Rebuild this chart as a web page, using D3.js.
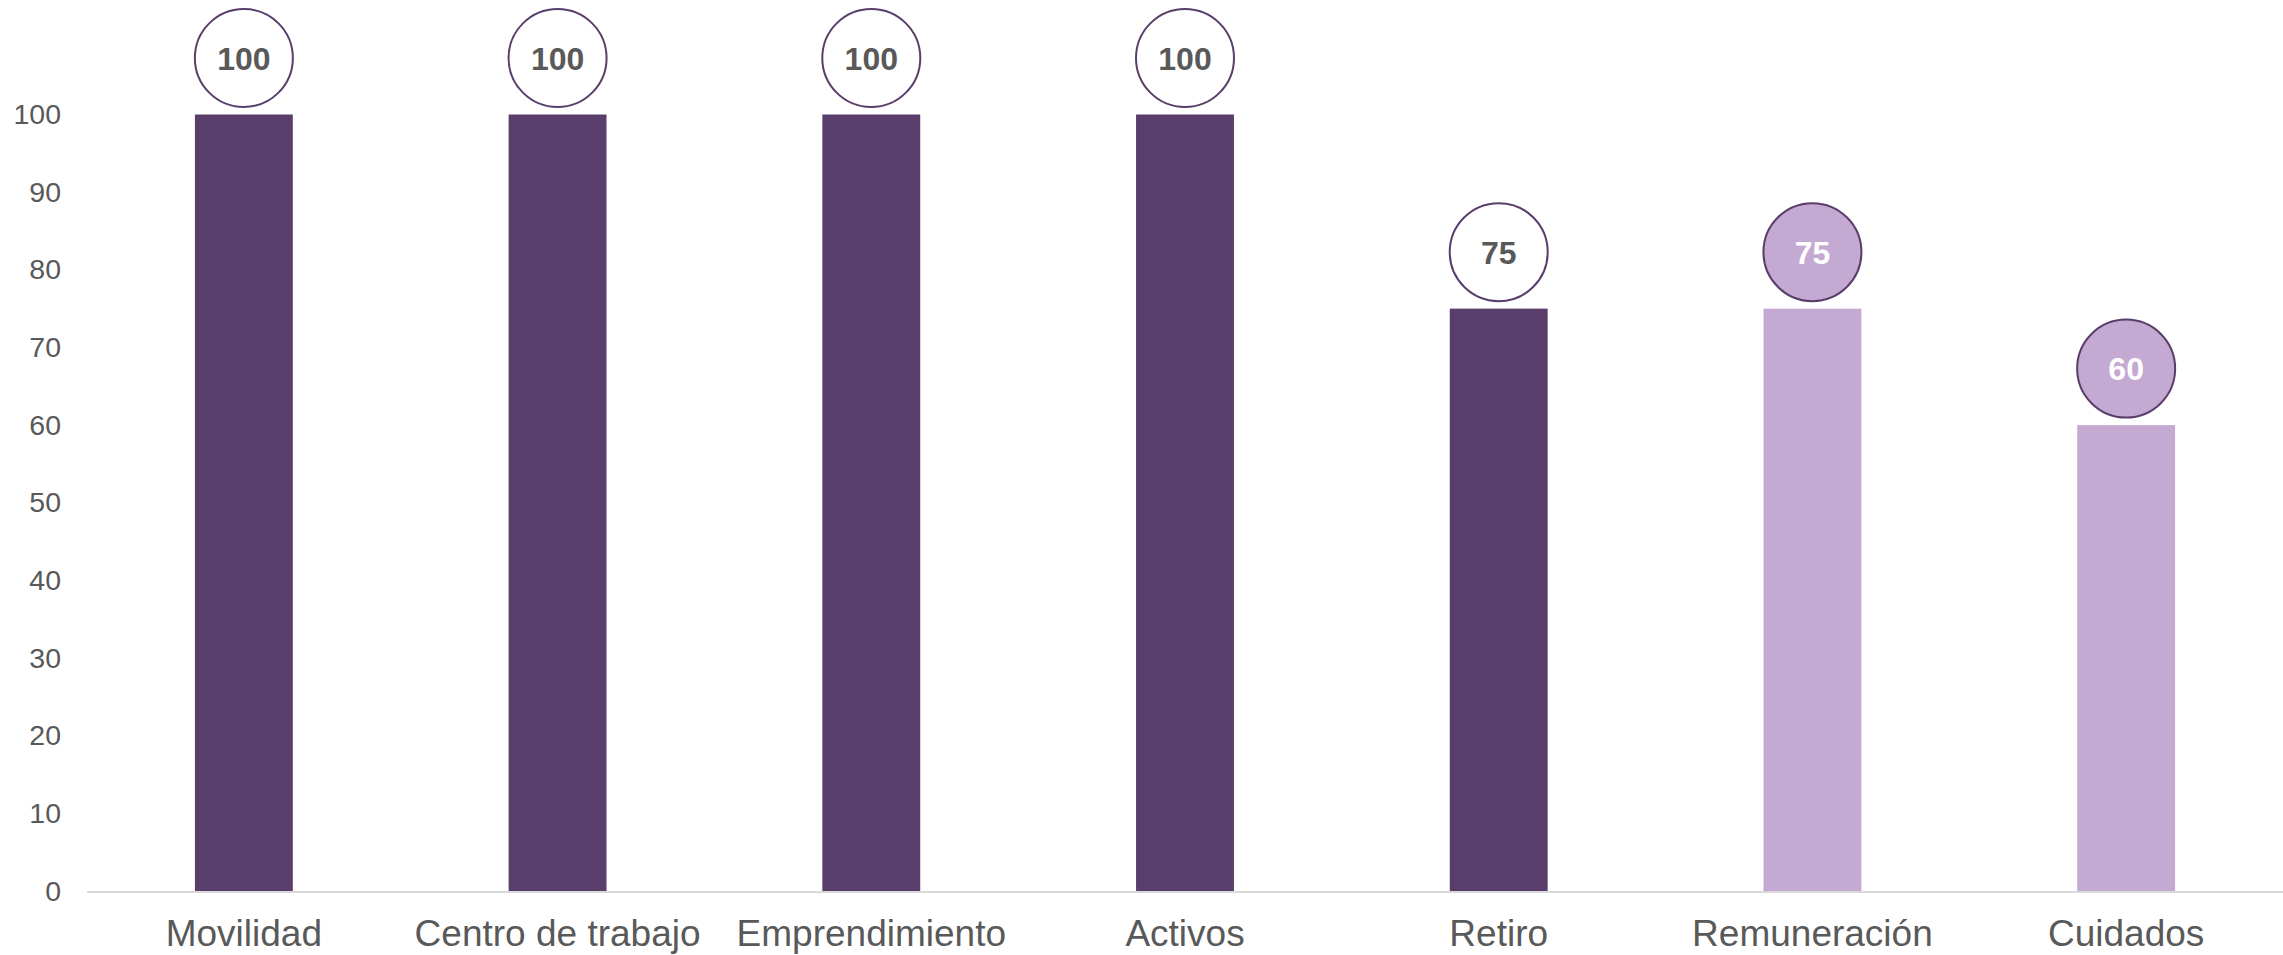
<!DOCTYPE html>
<html lang="es">
<head>
<meta charset="utf-8">
<script src="https://cdn.jsdelivr.net/npm/d3@7"></script>
<style>
  html, body { margin: 0; padding: 0; background: #ffffff; }
  svg { display: block; }
  text { font-family: "Liberation Sans", Arial, sans-serif; }
</style>
</head>
<body>
<svg id="chart" width="2283" height="955"></svg>
<script>
// Categorías y puntajes
const categorias = ["Movilidad", "Centro de trabajo", "Emprendimiento", "Activos", "Retiro", "Remuneración", "Cuidados"];
const valores = [100, 100, 100, 100, 75, 75, 60];
const grupos = ["A", "A", "A", "A", "A", "B", "B"];
const ticksY = [0, 10, 20, 30, 40, 50, 60, 70, 80, 90, 100];

const svg = d3.select("#chart");
const W = 2283, H = 955;
const margin = { left: 87, right: 0, top: 114.5, bottom: 64 };
const y0 = H - margin.bottom;

const x = d3.scaleBand()
  .domain(categorias)
  .range([margin.left, W - margin.right])
  .paddingInner(0.688)
  .paddingOuter(0.344);

const y = d3.scaleLinear()
  .domain([0, 100])
  .range([y0, margin.top]);

const colorBarra = d3.scaleOrdinal().domain(["A", "B"]).range(["#593d6b", "#c4aad3"]);
const colorCirculo = d3.scaleOrdinal().domain(["A", "B"]).range(["#ffffff", "#c4aad3"]);
const colorTexto = d3.scaleOrdinal().domain(["A", "B"]).range(["#595959", "#ffffff"]);

const datos = categorias.map((c, i) => ({ cat: c, val: valores[i], grp: grupos[i] }));

// Eje Y (sólo etiquetas)
const ejeY = svg.append("g")
  .attr("transform", `translate(${margin.left},0)`)
  .call(d3.axisLeft(y).tickValues(ticksY).tickSize(0).tickPadding(26));
ejeY.select(".domain").remove();
ejeY.selectAll("text")
  .attr("fill", "#595959")
  .style("font-size", "28.5px")
  .style("font-family", "'Liberation Sans', Arial, sans-serif");

// Barras
svg.append("g").selectAll("rect")
  .data(datos)
  .join("rect")
  .attr("x", d => x(d.cat))
  .attr("y", d => y(d.val))
  .attr("width", x.bandwidth())
  .attr("height", d => y(0) - y(d.val))
  .attr("fill", d => colorBarra(d.grp));

// Línea base
svg.append("line")
  .attr("x1", margin.left).attr("x2", W - margin.right)
  .attr("y1", y(0) + 1).attr("y2", y(0) + 1)
  .attr("stroke", "#d9d9d9").attr("stroke-width", 2);

// Eje X (etiquetas)
const ejeX = svg.append("g")
  .attr("transform", `translate(0,${y0})`)
  .call(d3.axisBottom(x).tickSize(0).tickPadding(29));
ejeX.select(".domain").remove();
ejeX.selectAll("text")
  .attr("fill", "#595959")
  .style("font-size", "37px")
  .style("font-family", "'Liberation Sans', Arial, sans-serif");

// Etiquetas de valor en círculos
const r = 49;
const etiquetas = svg.append("g").selectAll("g")
  .data(datos)
  .join("g")
  .attr("transform", d => `translate(${x(d.cat) + x.bandwidth() / 2},${y(d.val) - 56.5})`);

etiquetas.append("circle")
  .attr("r", r)
  .attr("fill", d => colorCirculo(d.grp))
  .attr("stroke", "#593d6b")
  .attr("stroke-width", 2);

etiquetas.append("text")
  .attr("text-anchor", "middle")
  .attr("dy", "0.36em")
  .attr("fill", d => colorTexto(d.grp))
  .style("font-size", "32px")
  .style("font-weight", "bold")
  .text(d => d.val);
</script>
</body>
</html>
